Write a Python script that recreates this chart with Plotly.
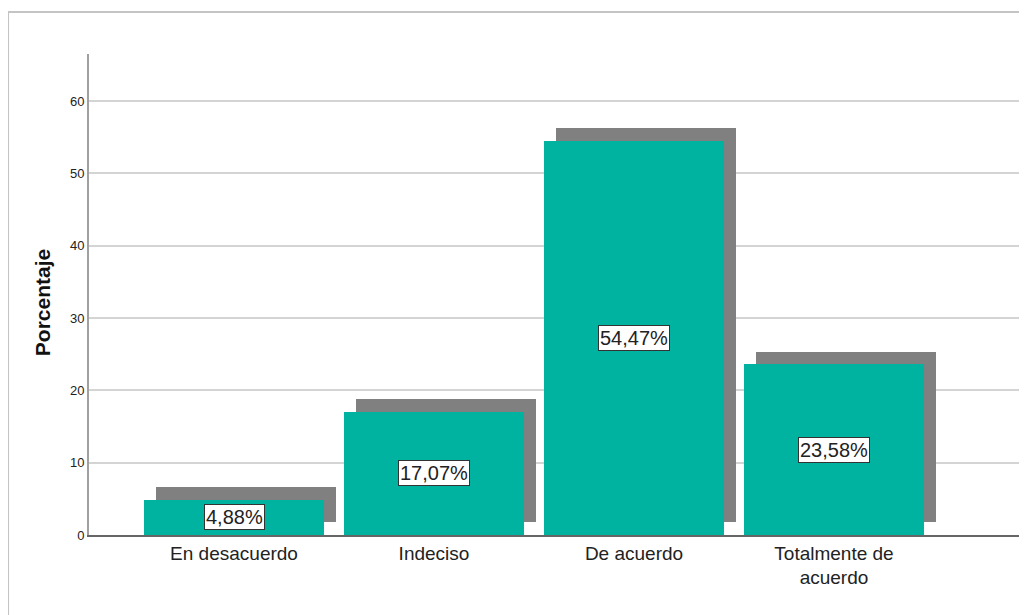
import plotly.graph_objects as go

categories = ["En desacuerdo", "Indeciso", "De acuerdo", "Totalmente de<br>acuerdo"]
values = [4.88, 17.07, 54.47, 23.58]
labels = ["4,88%", "17,07%", "54,47%", "23,58%"]
y_ticks = [0, 10, 20, 30, 40, 50, 60]

FONT = "Liberation Sans, Arial, sans-serif"
TEAL = "#00B2A0"
SHADOW = "#808080"

xs = list(range(len(categories)))
shadow_dx = 0.06
shadow_base = 1.75

fig = go.Figure()
fig.add_trace(go.Bar(
    x=[x + shadow_dx for x in xs], y=values, base=[shadow_base] * len(values),
    width=0.9, marker=dict(color=SHADOW, line=dict(width=0)),
    hoverinfo="skip", showlegend=False,
))
fig.add_trace(go.Bar(
    x=xs, y=values, width=0.9,
    marker=dict(color=TEAL, line=dict(width=0)),
    hoverinfo="skip", showlegend=False,
))

for x, v, t in zip(xs, values, labels):
    fig.add_annotation(
        x=x, y=v / 2, text=t, showarrow=False,
        font=dict(family=FONT, size=20, color="#222222"),
        bgcolor="white", bordercolor="#333333", borderwidth=1, borderpad=1,
        xanchor="center", yanchor="middle",
    )

fig.add_annotation(
    xref="paper", yref="paper", x=-0.0502, y=0.482,
    text="<b>Porcentaje</b>", textangle=-90, showarrow=False,
    font=dict(family=FONT, size=21, color="#111111"),
    xanchor="center", yanchor="middle",
)

# outer frame
fig.add_shape(
    type="rect", xref="paper", yref="paper",
    x0=-0.0865, y0=-0.3, x1=1.2, y1=1.0873,
    line=dict(color="#c4c4c4", width=2), fillcolor="rgba(0,0,0,0)", layer="below",
)

fig.update_layout(
    width=1019, height=607,
    margin=dict(l=81, r=2, t=46, b=80),
    paper_bgcolor="white", plot_bgcolor="white",
    barmode="overlay", bargap=0,
    font=dict(family=FONT, color="#222222"),
    xaxis=dict(
        range=[-0.725, 3.955], tickvals=xs, ticktext=categories,
        showgrid=False, zeroline=False,
        showline=True, linecolor="#666666", linewidth=1.5,
        ticks="", tickfont=dict(family=FONT, size=19, color="#222222"),
        fixedrange=True,
    ),
    yaxis=dict(
        range=[0, 66.5], tickvals=y_ticks,
        showgrid=True, gridcolor="#d4d4d4", gridwidth=1.5,
        zeroline=False,
        showline=True, linecolor="#a0a0a0", linewidth=2,
        ticks="", ticklen=0, tickfont=dict(family=FONT, size=13, color="#222222"),
        fixedrange=True,
    ),
)

fig.write_html("out.html")
